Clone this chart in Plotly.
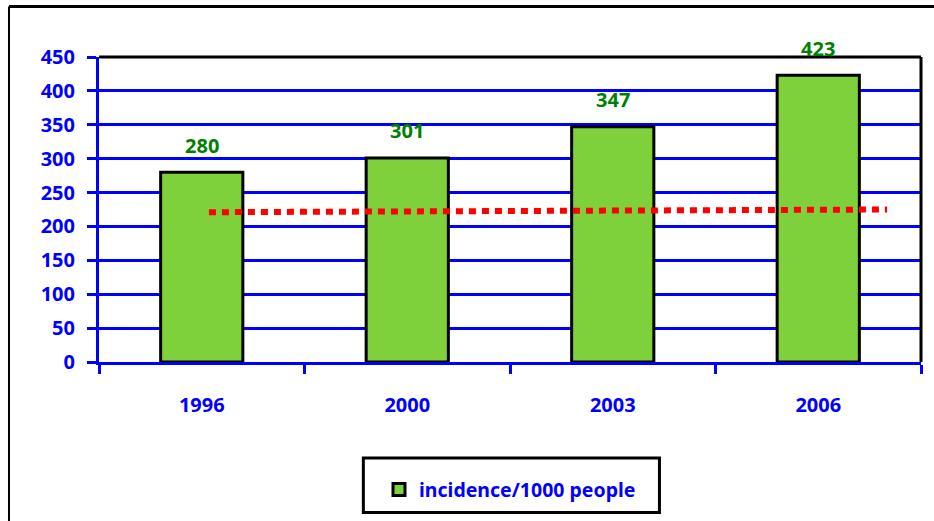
import plotly.graph_objects as go

years = ["1996", "2000", "2003", "2006"]
incidence = [280, 301, 347, 423]
trend_x = [0.035, 3.335]
trend_y = [221, 225]
y_ticks = [0, 50, 100, 150, 200, 250, 300, 350, 400, 450]

BLUE = "#0000FF"
GREEN_BAR = "#7FD13B"
GREEN_TXT = "#008000"
FONT = "Noto Sans"

fig = go.Figure()
fig.add_trace(go.Bar(
    x=years, y=incidence, name="incidence/1000 people",
    marker=dict(color=GREEN_BAR, line=dict(color="black", width=3)),
    width=0.40, showlegend=True,
))
fig.add_trace(go.Scatter(
    x=trend_x, y=trend_y, xaxis="x2", mode="lines",
    line=dict(color="#FF0000", width=6, dash="7px,6px"),
    showlegend=False, hoverinfo="skip",
))

for i, v in enumerate(incidence):
    fig.add_annotation(xref="x2", yref="y", x=i, y=v, text=str(v), showarrow=False,
                       yanchor="middle", yshift=27,
                       font=dict(family=FONT, size=20, color=GREEN_TXT, weight="bold"))

fig.update_layout(
    width=934, height=521,
    margin=dict(l=99, r=13, t=57, b=156),
    paper_bgcolor="white", plot_bgcolor="white",
    bargap=0.6,
    showlegend=True,
    legend=dict(orientation="h", x=0.5, xanchor="center", y=-0.355, yanchor="top",
                font=dict(family=FONT, size=19.5, color=BLUE, weight="bold"),
                bgcolor="rgba(0,0,0,0)", borderwidth=0),
    xaxis=dict(
        type="category", tickson="boundaries",
        ticks="outside", ticklen=9, tickwidth=3, tickcolor=BLUE,
        showline=True, linecolor=BLUE, linewidth=3,
        showgrid=False, zeroline=False,
        tickfont=dict(family=FONT, size=20, color=BLUE, weight="bold"),
        ticklabelstandoff=23,
        range=[-0.5, 3.5],
    ),
    xaxis2=dict(overlaying="x", range=[-0.5, 3.5], visible=False),
    yaxis=dict(
        range=[0, 450], tickvals=y_ticks,
        ticks="outside", ticklen=9, tickwidth=3, tickcolor=BLUE,
        showline=True, linecolor=BLUE, linewidth=3,
        showgrid=True, gridcolor=BLUE, gridwidth=3,
        zeroline=False,
        tickfont=dict(family=FONT, size=20, color=BLUE, weight="bold"),
        ticklabelstandoff=8,
    ),
    shapes=[
        # plot area top and right border
        dict(type="line", xref="paper", yref="paper", x0=0, x1=1, y0=1, y1=1,
             line=dict(color="black", width=3), layer="above"),
        dict(type="line", xref="paper", yref="paper", x0=1, x1=1, y0=0, y1=1,
             line=dict(color="black", width=3), layer="above"),
        # outer frame
        dict(type="line", xref="paper", yref="paper", x0=-0.1095, x1=1.03, y0=1.1656, y1=1.1656,
             line=dict(color="black", width=3)),
        dict(type="line", xref="paper", yref="paper", x0=-0.1095, x1=-0.1095, y0=-0.6, y1=1.1656,
             line=dict(color="black", width=2)),
        # legend box
        dict(type="rect", xref="paper", yref="paper", x0=0.3216, x1=0.6818, y0=-0.3149, y1=-0.4935,
             line=dict(color="black", width=3)),
    ],
)

fig.write_html("out.html")
